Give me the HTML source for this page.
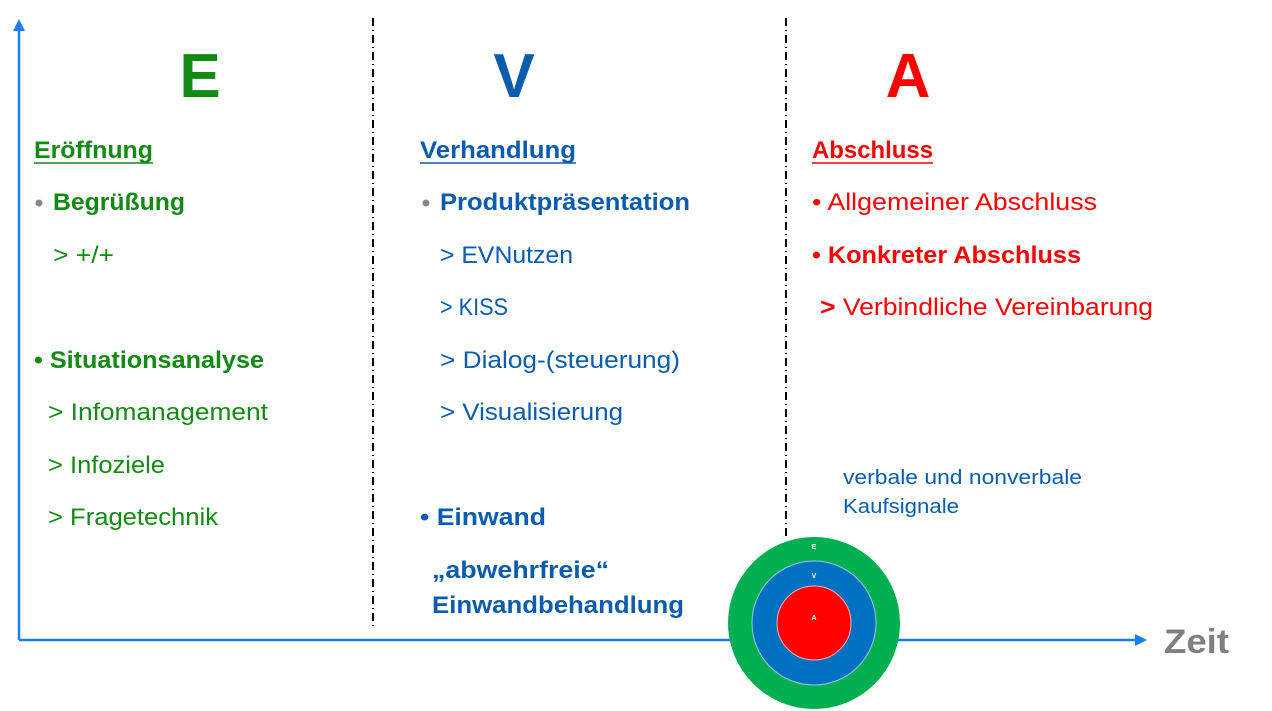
<!DOCTYPE html>
<html><head><meta charset="utf-8"><style>html,body{margin:0;padding:0;background:#fff}svg{display:block}</style></head>
<body>
<svg width="1272" height="711" viewBox="0 0 1272 711" xmlns="http://www.w3.org/2000/svg" font-family="Liberation Sans, sans-serif">
<defs>
<marker id="ah" markerWidth="12" markerHeight="12" refX="9" refY="6" orient="auto" markerUnits="userSpaceOnUse"><path d="M0,0 L12,6 L0,12 z" fill="#1a7ff0"/></marker>
</defs>
<line x1="19" y1="640" x2="19" y2="22" stroke="#1a7ff0" stroke-width="2.5" marker-end="url(#ah)"/>
<line x1="19" y1="640" x2="1144" y2="640" stroke="#1a7ff0" stroke-width="2.5" marker-end="url(#ah)"/>
<line x1="373" y1="18" x2="373" y2="630" stroke="#000" stroke-width="2" stroke-dasharray="8,4,1,4"/>
<line x1="786" y1="18" x2="786" y2="540" stroke="#000" stroke-width="2" stroke-dasharray="8,4,1,4"/>
<g font-weight="bold">
<text x="200" y="97" font-size="62" fill="#138a13" text-anchor="middle">E</text>
<text x="514" y="97" font-size="62" fill="#0b5cad" text-anchor="middle">V</text>
<text x="908" y="97" font-size="62" fill="#ff0000" text-anchor="middle">A</text>
</g>
<g font-size="24" fill="#138a13">
<text x="34" y="158" font-weight="bold" textLength="119" lengthAdjust="spacingAndGlyphs">Eröffnung</text>
<line x1="34" y1="163" x2="153" y2="163" stroke="#138a13" stroke-width="1.5"/>
<circle cx="39" cy="203" r="3.5" fill="#888"/>
<text x="53" y="210" font-weight="bold" textLength="132" lengthAdjust="spacingAndGlyphs">Begrüßung</text>
<text x="53" y="263" textLength="61" lengthAdjust="spacingAndGlyphs">&gt; +/+</text>
<text x="34" y="368" font-weight="bold" textLength="230" lengthAdjust="spacingAndGlyphs">• Situationsanalyse</text>
<text x="48" y="420" textLength="220" lengthAdjust="spacingAndGlyphs">&gt; Infomanagement</text>
<text x="48" y="473" textLength="117" lengthAdjust="spacingAndGlyphs">&gt; Infoziele</text>
<text x="48" y="525" textLength="170" lengthAdjust="spacingAndGlyphs">&gt; Fragetechnik</text>
</g>
<g font-size="24" fill="#0b5cad">
<text x="420" y="158" font-weight="bold" textLength="156" lengthAdjust="spacingAndGlyphs">Verhandlung</text>
<line x1="420" y1="163" x2="576" y2="163" stroke="#0b5cad" stroke-width="1.5"/>
<circle cx="426" cy="203" r="3.5" fill="#888"/>
<text x="440" y="210" font-weight="bold" textLength="250" lengthAdjust="spacingAndGlyphs">Produktpräsentation</text>
<text x="440" y="263" textLength="133" lengthAdjust="spacingAndGlyphs">&gt; EVNutzen</text>
<text x="440" y="315" textLength="68" lengthAdjust="spacingAndGlyphs">&gt; KISS</text>
<text x="440" y="368" textLength="240" lengthAdjust="spacingAndGlyphs">&gt; Dialog-(steuerung)</text>
<text x="440" y="420" textLength="183" lengthAdjust="spacingAndGlyphs">&gt; Visualisierung</text>
<text x="420" y="525" font-weight="bold" textLength="126" lengthAdjust="spacingAndGlyphs">• Einwand</text>
<text x="432" y="578" font-weight="bold" textLength="177" lengthAdjust="spacingAndGlyphs">„abwehrfreie“</text>
<text x="432" y="613" font-weight="bold" textLength="252" lengthAdjust="spacingAndGlyphs">Einwandbehandlung</text>
<text x="843" y="484" font-size="20" textLength="239" lengthAdjust="spacingAndGlyphs">verbale und nonverbale</text>
<text x="843" y="513" font-size="20" textLength="116" lengthAdjust="spacingAndGlyphs">Kaufsignale</text>
</g>
<g font-size="24" fill="#ff0000">
<text x="812" y="158" font-weight="bold" textLength="121" lengthAdjust="spacingAndGlyphs">Abschluss</text>
<line x1="812" y1="163" x2="933" y2="163" stroke="#ff0000" stroke-width="1.5"/>
<text x="812" y="210" textLength="285" lengthAdjust="spacingAndGlyphs">• Allgemeiner Abschluss</text>
<text x="812" y="263" font-weight="bold" textLength="269" lengthAdjust="spacingAndGlyphs">• Konkreter Abschluss</text>
<text x="820" y="315" textLength="333" lengthAdjust="spacingAndGlyphs"><tspan font-weight="bold">&gt;</tspan> Verbindliche Vereinbarung</text>
</g>
<text x="1164" y="653" font-size="34" font-weight="bold" fill="#808080" textLength="65" lengthAdjust="spacingAndGlyphs">Zeit</text>
<circle cx="814" cy="623" r="86" fill="#00b050"/>
<circle cx="814" cy="623" r="62" fill="#0070c0" stroke="#9dc3e6" stroke-width="1"/>
<circle cx="814" cy="623" r="37" fill="#ff0000" stroke="#f4b0b0" stroke-width="1"/>
<g fill="#fff" font-size="7" font-weight="bold" text-anchor="middle">
<text x="814" y="549">E</text>
<text x="814" y="578">V</text>
<text x="814" y="620">A</text>
</g>
</svg>
</body></html>
